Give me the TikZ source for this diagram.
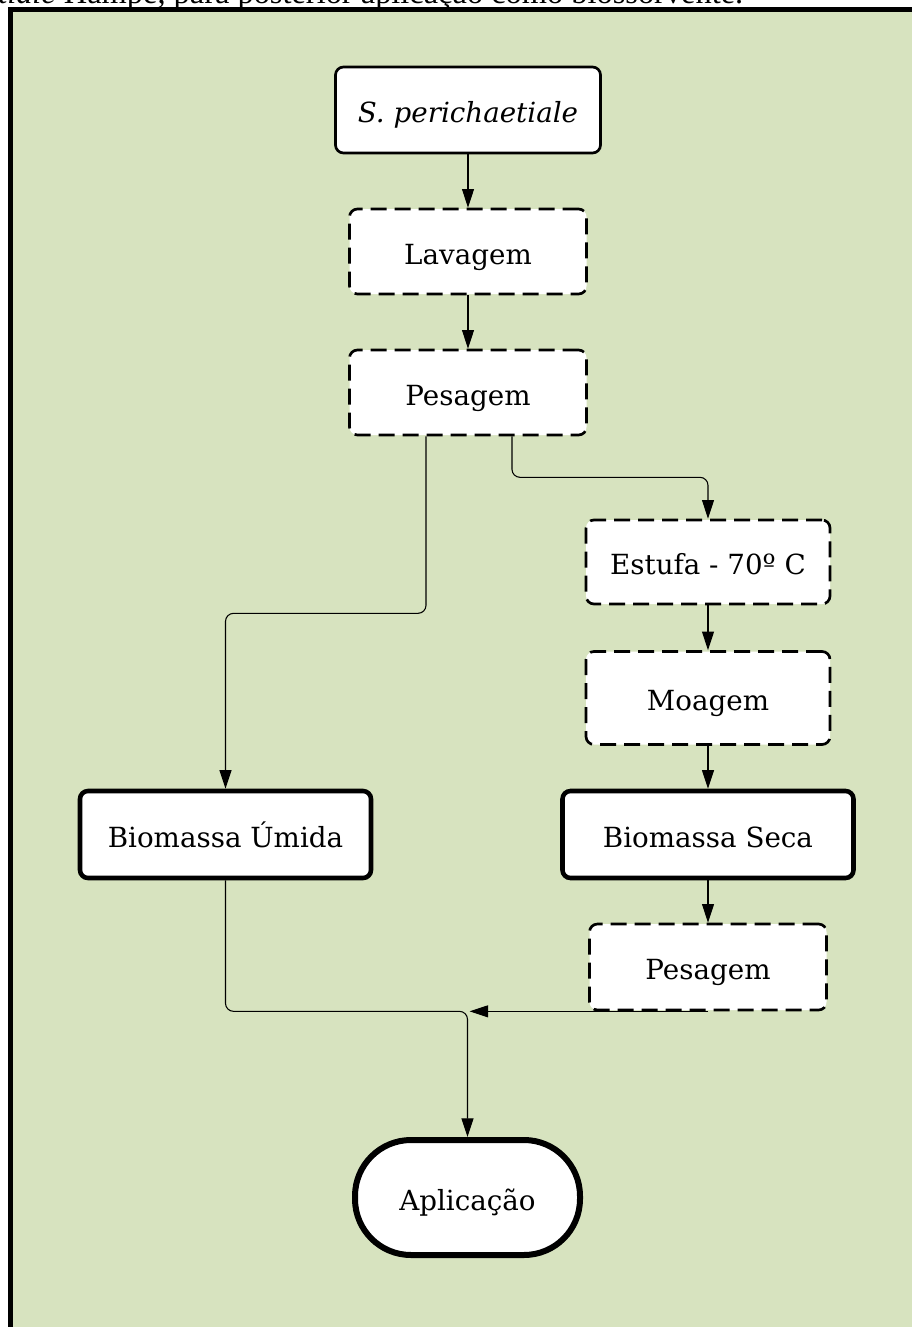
\documentclass[tikz,border=0pt]{standalone}
\usepackage{fontspec}
\setmainfont{DejaVu Serif}
\newfontfamily\capfont{Liberation Serif}
\usetikzlibrary{arrows.meta,calc}
\definecolor{bggreen}{HTML}{D7E3BF}
\tikzset{
  boxbase/.style={draw, fill=white, rounded corners=6pt, line width=2pt, align=center,
    font=\fontsize{20.8pt}{24pt}\selectfont, inner sep=0pt, text height=19pt, text depth=0pt},
  solidbox/.style={boxbase},
  dashbox/.style={boxbase, dash pattern=on 12pt off 6pt},
  thickbox/.style={boxbase, line width=3.4pt},
  endbox/.style={boxbase, line width=4.5pt, rounded corners=42pt},
  conn/.style={line width=0.8pt, -{Triangle[length=14pt,width=9pt]}},
}
\begin{document}
\begin{tikzpicture}[x=0.75pt, y=-0.75pt]
\useasboundingbox (0,0) rectangle (912,1327);
% caption (cut off at the top)
\node[anchor=base west, inner sep=0pt, font=\capfont\fontsize{24.3pt}{28pt}\selectfont] (cap) at (-2,4) {\textit{tiale} Hampe, para posterior aplicação como biossorvente.};
% frame
\path[fill=bggreen, draw=black, line width=3.3pt] (10.3,9.5) rectangle (940,1360);
% nodes
\node[solidbox, minimum width=198.75pt, minimum height=64.5pt] (sp) at (468,110) {\textit{S. perichaetiale}};
\node[dashbox, minimum width=177.75pt, minimum height=63.75pt] (lav) at (468,251.5) {Lavagem};
\node[dashbox, minimum width=177.75pt, minimum height=63.75pt] (pes1) at (468,392.5) {Pesagem};
\node[dashbox, minimum width=183pt, minimum height=63pt] (est) at (708,562) {Estufa - 70º C};
\node[dashbox, minimum width=183pt, minimum height=69.75pt] (moa) at (708,698) {Moagem};
\node[thickbox, minimum width=218.25pt, minimum height=65.25pt] (bs) at (708,834.5) {Biomassa Seca};
\node[thickbox, minimum width=218.25pt, minimum height=65.25pt] (bu) at (225.5,834.5) {Biomassa Úmida};
\node[dashbox, minimum width=177.75pt, minimum height=64.5pt] (pes2) at (708,967) {Pesagem};
\node[endbox, minimum width=168.75pt, minimum height=86.25pt] (apl) at (467.5,1197.5) {Aplicação};
\coordinate (j) at (pes2.south -| apl.north);
% connectors
\draw[conn] (sp) -- (lav);
\draw[conn] (lav) -- (pes1);
\draw[conn, rounded corners=6pt] ($(pes1.south)+(44,0)$) -- ++(0,41) -| (est.north);
\draw[conn, rounded corners=6pt] ($(pes1.south)+(-42,0)$) -- ++(0,177) -| (bu.north);
\draw[conn] (est) -- (moa);
\draw[conn] (moa) -- (bs);
\draw[conn] (bs) -- (pes2);
\draw[conn] (pes2.south) -- ($(j)+(2,0)$);
\draw[conn, rounded corners=6pt] (bu.south) |- (j) -- (apl.north);
\end{tikzpicture}
\end{document}
